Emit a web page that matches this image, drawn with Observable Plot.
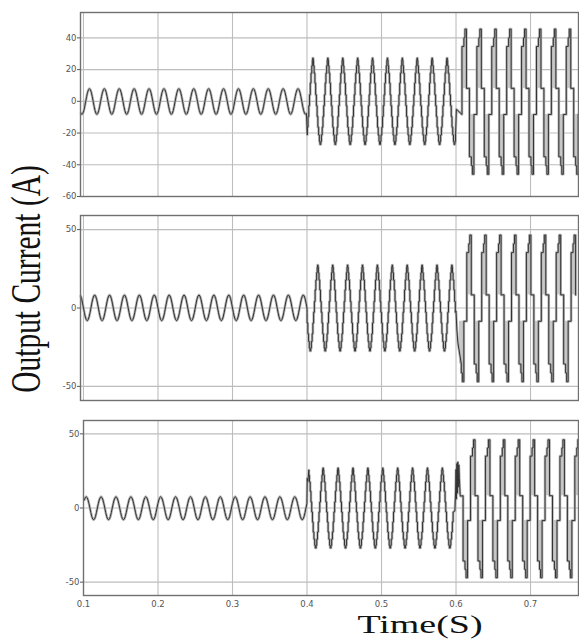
<!DOCTYPE html>
<html>
<head>
<meta charset="utf-8">
<script src="https://cdn.jsdelivr.net/npm/d3@7"></script>
<script src="https://cdn.jsdelivr.net/npm/@observablehq/plot@0.6"></script>
<style>
  html, body { margin: 0; padding: 0; background: #fff; }
  #chart { position: relative; width: 579px; height: 644px; overflow: hidden; }
  .panel { position: absolute; left: 0; }
  #labels { position: absolute; left: 0; top: 0; pointer-events: none; }
</style>
</head>
<body>
<div id="chart"></div>
<script>
// ---------- data ----------
const period = 0.02;                       // 50 Hz
const xTicks = [0.1, 0.2, 0.3, 0.4, 0.5, 0.6, 0.7];
const yTicksTop = [-60, -40, -20, 0, 20, 40];
const yTicksLower = [-50, 0, 50];
const yDomains = [[-60, 56], [-59, 59], [-59, 59]];
const xDomains = [[0.096, 0.7644], [0.096, 0.7644], [0.1, 0.7644]];

// one cycle of the small (sinusoidal) current, relative to its peak: [phase, level]
const smoothShape = [[-0.5,-1],[-0.4375,-0.92],[-0.375,-0.71],[-0.3125,-0.38],[-0.25,0],[-0.1875,0.38],
  [-0.125,0.71],[-0.0625,0.92],[0,1],[0.0625,0.92],[0.125,0.71],[0.1875,0.38],[0.25,0],[0.3125,-0.38],
  [0.375,-0.71],[0.4375,-0.92]];
// one cycle of the medium (stepped) current: [phase where a step starts, level]
const mediumSteps = [[-0.5,-1],[-0.47,-0.93],[-0.43,-0.78],[-0.38,-0.6],[-0.33,-0.35],[-0.28,-0.1],
  [-0.23,0.15],[-0.18,0.42],[-0.13,0.65],[-0.08,0.82],[-0.04,0.95],[-0.015,1],[0.015,0.95],[0.04,0.82],
  [0.08,0.65],[0.13,0.42],[0.18,0.15],[0.23,-0.1],[0.28,-0.35],[0.33,-0.6],[0.38,-0.78],[0.43,-0.93],[0.47,-1]];
// one cycle of the large (multilevel) current: [phase where a step starts, level]
const largeSteps = [[-0.25,0.76],[-0.12,0.88],[-0.05,1],[0.05,0.18],[0.25,-0.76],[0.38,-0.88],[0.45,-1],[0.55,-0.18]];
// grey (fast switching) band inside each large pulse: [phase from, phase to, level low, level high]
const largeBands = [[-0.25,0.05,0.18,0.76],[0.25,0.55,-0.76,-0.18]];

// per panel segments: [start, end, first peak time, positive peak, negative peak]
const smallSeg  = [[0.096,0.4,0.108,8.0,8.2],   [0.096,0.4,0.115,8.3,8.1],   [0.1,0.4,0.1036,7.6,8.0]];
const mediumSeg = [[0.4,0.6,0.408,27.3,27.2],   [0.4,0.6,0.4145,27.4,27.4],  [0.4025,0.597,0.4217,27,27]];
const largeSeg  = [[0.6041,0.7644,0.613,45.5,46],[0.6046,0.7644,0.6195,46.5,47],[0.6065,0.7644,0.6245,46,47]];
// switching transients at 0.4 s and 0.6 s: [time, current]
const transient04 = [[], [], [[0.4003,20],[0.4012,18]]];
const transient06 = [
  [[0.6005,-5]],
  [[0.6,-2],[0.6012,-14],[0.6025,-22]],
  [[0.5985,-2],[0.5995,12],[0.6,26],[0.6006,6],[0.6012,30],[0.6018,10],[0.6024,31],[0.603,14],[0.6038,29],[0.6045,20],[0.6055,9],[0.606,8]]
];

// ---------- build the traces from the tables above ----------
function scaleLevel(v, hi, lo) { return v >= 0 ? v * hi : v * lo; }
function cycles(start, end, peak) {
  return d3.range(Math.floor((start - peak) / period) - 1, Math.ceil((end - peak) / period) + 2);
}
function smoothPoints([start, end, peak, hi, lo]) {
  const out = [];
  for (const k of cycles(start, end, peak)) for (const [ph, v] of smoothShape) {
    const t = peak + (k + ph) * period;
    if (t >= start && t <= end) out.push({t, v: scaleLevel(v, hi, lo)});
  }
  return out;
}
function stepPoints(shape, [start, end, peak, hi, lo]) {
  const out = [];
  let prev = null;
  for (const k of cycles(start, end, peak)) for (const [ph, v] of shape) {
    const t = peak + (k + ph) * period;
    const val = scaleLevel(v, hi, lo);
    if (t >= start && t <= end) {
      if (prev !== null) out.push({t, v: prev});
      out.push({t, v: val});
    }
    prev = val;
  }
  return out;
}
function bandRects([start, end, peak, hi, lo]) {
  const out = [];
  for (const k of cycles(start, end, peak)) for (const [a, b, l1, l2] of largeBands) {
    const t1 = Math.max(start, peak + (k + a) * period), t2 = Math.min(end, peak + (k + b) * period);
    if (t2 > t1) out.push({t1, t2, v1: scaleLevel(l1, hi, lo), v2: scaleLevel(l2, hi, lo)});
  }
  return out;
}
function trace(p) {
  return [
    ...smoothPoints(smallSeg[p]),
    ...transient04[p].map(([t, v]) => ({t, v})),
    ...stepPoints(mediumSteps, mediumSeg[p]),
    ...transient06[p].map(([t, v]) => ({t, v})),
    ...stepPoints(largeSteps, largeSeg[p])
  ];
}

// ---------- draw ----------
const chart = document.getElementById("chart");
const geometry = [
  {top: 0,   height: 200, mt: 12, mb: 4,  ml: 80},
  {top: 200, height: 202, mt: 15, mb: 2,  ml: 80},
  {top: 400, height: 244, mt: 20, mb: 49, ml: 83}
];
const tickFont = {fontFamily: "DejaVu Sans", fontSize: "8.5px", color: "#555", background: "transparent"};

for (let p = 0; p < 3; p++) {
  const g = geometry[p];
  const yTicks = p === 0 ? yTicksTop : yTicksLower;
  const data = trace(p);
  const plot = Plot.plot({
    width: 579, height: g.height,
    marginTop: g.mt, marginBottom: g.mb, marginLeft: g.ml, marginRight: 1,
    style: tickFont,
    x: {domain: xDomains[p], ticks: xTicks, tickFormat: d => d.toFixed(1), tickSize: 0, tickPadding: 5,
        label: null, axis: p === 2 ? "bottom" : null},
    y: {domain: yDomains[p], ticks: yTicks, tickFormat: d => String(d), tickSize: 3, tickPadding: 1, label: null},
    marks: [
      Plot.ruleX(xTicks.filter(d => d > xDomains[p][0] + 0.001), {stroke: "#bdbdbd", strokeWidth: 1.1}),
      Plot.ruleY(yTicks, {stroke: "#bdbdbd", strokeWidth: 1.1}),
      Plot.rect(bandRects(largeSeg[p]), {x1: "t1", x2: "t2", y1: "v1", y2: "v2", fill: "#c9c9c9"}),
      Plot.line(data, {x: "t", y: "v", stroke: "#b4b4b4", strokeWidth: 2.6}),
      Plot.line(data, {x: "t", y: "v", stroke: "#333", strokeWidth: 1}),
      Plot.frame({stroke: "#707070", strokeWidth: 1.4})
    ]
  });
  const div = document.createElement("div");
  div.className = "panel";
  div.style.top = g.top + "px";
  div.appendChild(plot);
  chart.appendChild(div);
}

// axis titles
const ns = "http://www.w3.org/2000/svg";
const svg = document.createElementNS(ns, "svg");
svg.setAttribute("id", "labels");
svg.setAttribute("width", 579);
svg.setAttribute("height", 644);
function addText(str, transform, size) {
  const t = document.createElementNS(ns, "text");
  t.textContent = str;
  t.setAttribute("transform", transform);
  t.setAttribute("text-anchor", "middle");
  t.setAttribute("font-family", "Liberation Serif");
  t.setAttribute("font-size", size);
  t.setAttribute("fill", "#111");
  svg.appendChild(t);
}
addText("Output Current (A)", "translate(39.5,279) scale(1.45,1) rotate(-90)", 29.5);
addText("Time(S)", "translate(420,633) scale(1.55,1)", 24.5);
chart.appendChild(svg);
</script>
</body>
</html>
